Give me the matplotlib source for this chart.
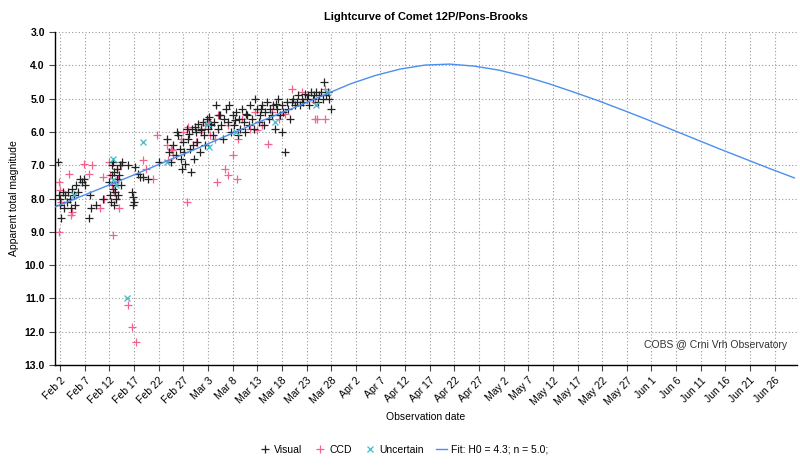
import pandas as pd
import matplotlib
matplotlib.use("Agg")
import matplotlib.pyplot as plt

plt.rcParams['font.family'] = ['Liberation Sans', 'DejaVu Sans']

# days counted from 2024-02-01, magnitudes
vis_day = [0.6, 0.8, 1.0, 1.0, 1.2, 1.5, 1.8, 2.0, 2.3, 2.6, 3.0, 3.2, 3.5, 3.8, 4.0, 4.3, 4.6,
           5.0, 5.4, 5.8, 6.0, 6.8, 7.2, 7.0, 8.3, 9.8,
           11.0, 11.2, 11.3, 11.5, 11.6, 11.7, 11.8, 11.9, 12.0, 12.1, 12.2, 12.3, 12.5, 12.6,
           12.8, 13.0, 13.2, 13.4, 13.6,
           14.8, 15.6, 15.8, 15.9, 15.7, 16.2, 16.8, 17.3, 17.9, 18.9,
           21.0, 22.7, 23.0, 23.5, 24.0, 24.5, 24.7, 25.0, 25.3, 25.6, 25.8, 26.0, 26.2, 26.4,
           26.7, 27.0, 27.3, 27.5, 27.8, 28.0, 28.2, 28.5, 28.8, 29.0, 29.3, 29.6, 30.0, 30.2,
           30.5, 30.8, 31.0, 31.3, 31.6, 32.0, 32.3, 32.6, 33.0, 33.3, 33.6, 34.0, 34.3, 34.6,
           35.0, 35.3, 35.6, 36.0, 36.3, 36.6, 37.0, 37.3, 37.6, 38.0, 38.3, 38.6, 39.0, 39.3,
           39.6, 40.0, 40.3, 40.6, 41.0, 41.3, 41.6, 42.0, 42.3, 42.6, 43.0, 43.3, 43.6, 44.0,
           44.3, 44.6, 45.0, 45.3, 45.6, 46.0, 46.0, 46.3, 46.6, 47.0, 47.3, 47.6,
           48.0, 48.3, 48.6, 49.0, 49.3, 49.6, 50.0, 50.3, 50.6, 51.0, 51.3, 51.6, 52.0, 52.3,
           52.6, 53.0, 53.3, 53.6, 54.0, 54.3, 54.6, 55.0, 55.3, 55.6, 55.9,
           29.5, 31.5, 33.5, 36.5, 38.8, 41.8, 44.8, 27.2, 28.3]
vis_mag = [6.9, 7.9, 8.0, 8.2, 8.6, 7.8, 8.3, 7.9, 8.1, 7.8, 8.0, 8.3, 7.7, 7.9, 8.2, 7.6, 7.8,
           7.4, 7.5, 7.4, 7.6, 8.6, 8.3, 7.9, 8.2, 8.0,
           7.5, 7.9, 8.1, 7.0, 7.3, 7.7, 6.9, 8.2, 7.2, 7.6, 7.8, 8.0, 7.4, 7.1,
           7.9, 7.3, 7.0, 7.6, 6.9,
           7.0, 7.8, 7.95, 8.1, 8.2, 7.05, 7.25, 7.35, 7.35, 7.4,
           6.9, 6.2, 6.6, 6.9, 6.4, 6.7, 6.0, 6.1, 6.5, 6.8, 7.1, 6.3, 6.6, 6.95,
           5.9, 6.2, 6.5, 7.2, 5.9, 6.4, 6.8, 6.0, 6.3, 5.75, 6.6, 5.9, 5.7, 6.1,
           6.4, 5.6, 5.9, 5.55, 5.8, 6.1, 5.7, 5.2, 5.9, 5.5, 5.8, 6.2, 5.6, 5.3,
           5.7, 5.2, 6.0, 5.5, 5.8, 5.4, 6.1, 5.6, 5.9, 5.3, 5.7, 6.0, 5.5, 5.8,
           5.2, 5.6, 5.9, 5.0, 5.3, 5.7, 5.5, 5.2, 5.8, 5.4, 5.1, 5.6, 5.3, 5.5,
           5.2, 5.9, 5.3, 5.0, 5.5, 6.0, 5.2, 5.4, 6.6, 5.1, 5.3, 5.6,
           5.1, 5.0, 5.2, 5.1, 4.9, 5.2, 5.0, 5.1, 4.85, 5.0, 4.9, 5.2, 4.8, 5.0,
           4.9, 4.8, 5.1, 4.9, 4.8, 5.0, 4.5, 4.9, 4.8, 5.0, 5.3,
           5.95, 5.75, 5.5, 5.65, 5.45, 5.3, 5.15, 6.05, 5.85]

ccd_day = [0.7, 0.8, 0.9, 1.2, 2.8, 3.2, 3.5, 5.9, 6.9, 7.5, 9.1, 9.8, 10.0,
           11.0, 11.2, 11.5, 11.8, 12.0, 12.3, 12.5, 12.8, 13.0, 13.3,
           14.7, 15.5, 16.4, 17.9, 18.5, 19.9,
           20.7, 22.6, 22.8, 23.5, 23.7, 24.0, 25.5, 26.0, 26.7, 27.0,
           28.5, 29.5, 30.3, 31.0, 31.5, 32.5, 32.9, 33.0, 34.5, 35.0, 35.1, 36.1, 36.9, 37.0,
           38.0, 39.5, 40.5, 41.0, 42.0, 43.2, 44.0, 45.5, 46.7, 48.0, 50.1, 52.7, 52.7,
           53.1, 54.8, 54.8]
ccd_mag = [9.0, 7.5, 7.75, 8.1, 7.25, 8.5, 8.4, 6.95, 7.25, 7.0, 8.3, 7.35, 8.0,
           6.9, 7.3, 7.6, 9.1, 7.8, 8.0, 7.1, 7.4, 8.3, 7.0,
           11.2, 11.85, 12.3, 6.85, 7.1, 7.4,
           6.1, 6.4, 6.85, 6.5, 6.55, 6.7, 6.2, 6.0, 8.1, 5.85,
           6.3, 6.0, 5.8, 5.7, 6.1, 6.2, 7.5, 5.5, 7.1, 5.8, 7.3, 6.7, 7.4, 6.2,
           5.6, 5.9, 5.4, 5.95, 5.8, 6.35, 5.4, 5.6, 5.45, 4.7, 4.8, 5.6, 5.1,
           5.6, 5.6, 4.7]

unc_day = [3.8, 11.8, 11.8, 12.3, 14.6, 17.8, 22.7, 31.0, 31.3, 36.7, 44.6, 53.0, 55.1]
unc_mag = [7.9, 6.8, 7.45, 7.6, 11.0, 6.3, 6.9, 5.75, 6.45, 6.0, 5.7, 5.2, 4.8]

fit_day = [0, 5, 10, 15, 20, 25, 30, 35, 40, 45, 50, 55, 60, 65, 70, 75, 80, 85,
           90, 95, 100, 105, 110, 115, 120, 125, 130, 135, 140, 145, 150]
fit_mag = [8.25, 7.95, 7.65, 7.35, 7.04, 6.73, 6.42, 6.1, 5.78, 5.48, 5.18, 4.86, 4.55,
           4.3, 4.11, 3.99, 3.96, 4.02, 4.14, 4.32, 4.54, 4.79, 5.05, 5.33, 5.62, 5.92,
           6.22, 6.52, 6.81, 7.1, 7.38]

start = pd.Timestamp("2024-02-01")


def to_dates(days):
    return start + pd.to_timedelta(days, unit="D")


fig = plt.figure(figsize=(8, 4.66), dpi=100)
ax = fig.add_axes([0.069, 0.217, 0.927, 0.714])

ax.plot(to_dates(ccd_day), ccd_mag, ls="none", marker="+", ms=6, mew=0.9,
        color="#f4638c", label="CCD", zorder=2)
ax.plot(to_dates(vis_day), vis_mag, ls="none", marker="+", ms=6, mew=0.9,
        color="#222222", label="Visual", zorder=3)
ax.plot(to_dates(unc_day), unc_mag, ls="none", marker="x", ms=4.5, mew=0.9,
        color="#3cbccc", label="Uncertain", zorder=4)
ax.plot(to_dates(fit_day), fit_mag, color="#4a8ff0", lw=1.0,
        label="Fit: H0 = 4.3; n = 5.0;", zorder=5)

ax.set_ylim(13.0, 3.0)
ax.set_yticks(range(3, 14))
ax.yaxis.set_major_formatter(plt.FormatStrFormatter("%.1f"))
ax.set_xlim(pd.Timestamp("2024-02-01"), pd.Timestamp("2024-06-30 12:00"))
ticks = pd.date_range("2024-02-02", "2024-06-26", freq="5D")
ax.set_xticks(ticks)
ax.set_xticklabels([f"{t.strftime('%b')} {t.day}" for t in ticks],
                   rotation=45, ha="right", rotation_mode="anchor", fontsize=7.5)
for lab in ax.get_yticklabels():
    lab.set_fontweight("bold")
    lab.set_fontsize(7.5)

ax.grid(True, ls=(0, (1, 2)), color="#999999", lw=0.8)
ax.set_axisbelow(True)
for s in ["top", "right"]:
    ax.spines[s].set_visible(False)
ax.spines["left"].set_linewidth(1.0)
ax.spines["bottom"].set_linewidth(1.0)
ax.tick_params(axis="both", length=4, width=0.8, color="#444444")

ax.set_title("Lightcurve of Comet 12P/Pons-Brooks", fontsize=8, fontweight="bold", pad=9)
ax.set_ylabel("Apparent total magnitude", fontsize=7.5)
ax.set_xlabel("Observation date", fontsize=7.5, labelpad=4)
ax.text(0.987, 0.045, "COBS @ Crni Vrh Observatory", transform=ax.transAxes,
        ha="right", va="bottom", fontsize=7.5, color="#333333")

handles, labels = ax.get_legend_handles_labels()
order = [1, 0, 2, 3]
fig.legend([handles[i] for i in order], [labels[i] for i in order],
           loc="center", bbox_to_anchor=(0.505, 0.035), ncol=4, frameon=False,
           fontsize=7.5, handlelength=1.0, handletextpad=0.4, columnspacing=1.2)

fig.savefig("out.png", dpi=100)
